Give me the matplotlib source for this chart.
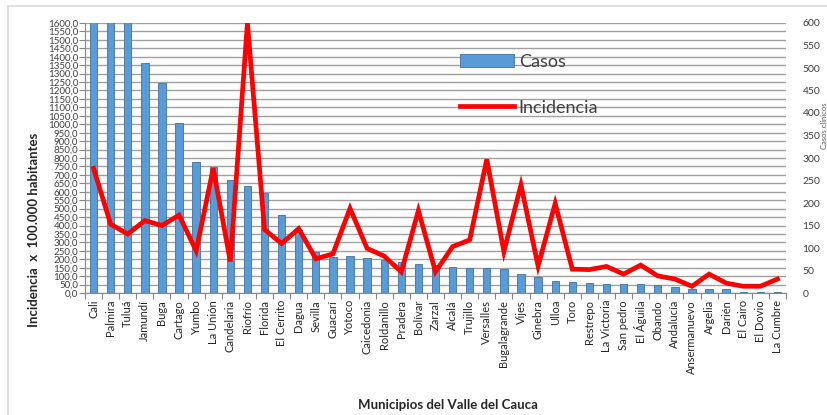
import numpy as np
import matplotlib
matplotlib.use("Agg")
import matplotlib.pyplot as plt
from matplotlib.lines import Line2D
from matplotlib.ticker import FuncFormatter, MultipleLocator

plt.rcParams['font.family'] = ['Lato', 'DejaVu Sans']

# -------------------------------
# Data
# -------------------------------
municipios = ["Cali", "Palmira", "Tuluá", "Jamundí", "Buga", "Cartago", "Yumbo",
              "La Unión", "Candelaria", "Riofrío", "Florida", "El Cerrito", "Dagua",
              "Sevilla", "Guacarí", "Yotoco", "Caicedonia", "Roldanillo", "Pradera",
              "Bolívar", "Zarzal", "Alcalá", "Trujillo", "Versalles", "Bugalagrande",
              "Vijes", "Ginebra", "Ulloa", "Toro", "Restrepo", "La Victoria",
              "San pedro", "El Águila", "Obando", "Andalucía", "Ansermanuevo",
              "Argelia", "Darién", "El Cairo", "El Dovio", "La Cumbre"]

# bars, left axis (first three go past the top of the axis)
casos = [2500, 1900, 1700, 1365, 1243, 1008, 779, 744, 667, 635, 595, 461, 375,
         245, 216, 219, 210, 195, 186, 171, 168, 155, 150, 150, 144, 112, 96,
         72, 67, 59, 51, 51, 51, 45, 36, 22, 22, 22, 8, 8, 8]

# line, right axis
incidencia = [277, 153, 131, 161, 150, 173, 94, 277, 70, 600, 141, 110, 143,
              76, 87, 188, 99, 82, 47, 183, 47, 103, 118, 297, 92, 240, 60,
              199, 53, 52, 59, 42, 62, 38, 31, 15, 42, 22, 15, 15, 31]

# -------------------------------
# Figure
# -------------------------------
fig = plt.figure(figsize=(8.28, 4.15), dpi=100)
ax = fig.add_axes([85 / 828, 1 - 293 / 415, (786 - 85) / 828, 270 / 415])
ax2 = ax.twinx()

x = np.arange(len(municipios))
ax.bar(x, casos, width=0.43, color='#5B9BD5', edgecolor='#41719C',
       linewidth=0.6, label='Casos', zorder=2)
ax2.plot(x, incidencia, color='#FF0000', linewidth=3.4, label='Incidencia',
         solid_joinstyle='miter', zorder=3)

ax.set_xlim(-0.5, len(municipios) - 0.5)
ax.set_ylim(0, 1600)
ax2.set_ylim(0, 600)

# left axis
ax.yaxis.set_major_locator(MultipleLocator(50))
ax.yaxis.set_major_formatter(FuncFormatter(lambda v, p: f"{v:.1f}".replace('.', ',')))
ax.tick_params(axis='y', labelsize=7, length=4, width=0.8, color='#868686',
               labelcolor='#404040', pad=1)
ax.grid(axis='y', color='#A0A0A0', linewidth=1.0, zorder=0)
ax.set_axisbelow(True)

# right axis
ax2.yaxis.set_major_locator(MultipleLocator(50))
ax2.tick_params(axis='y', labelsize=7.5, length=0, labelcolor='#404040', pad=12)

# x axis
ax.set_xticks(x)
ax.set_xticklabels(municipios, rotation=90, fontsize=8, color='#262626')
ax.tick_params(axis='x', length=0, pad=5)
ax.set_xticks(np.arange(-0.5, len(municipios)), minor=True)
ax.tick_params(axis='x', which='minor', length=4, width=0.8, color='#868686')

for a in (ax, ax2):
    a.spines['top'].set_visible(False)
    a.spines['right'].set_visible(False)
ax.spines['left'].set_color('#868686')
ax.spines['bottom'].set_color('#868686')
ax2.spines['left'].set_visible(False)
ax2.spines['bottom'].set_visible(False)

# axis titles
ax.set_ylabel('Incidencia  x  100.000 habitantes', fontsize=9.5, fontweight='bold',
              color='#262626')
ax.yaxis.set_label_coords(-0.064, 0.235)
ax2.set_ylabel('Casos clínicos', fontsize=5.5, color='#595959')
ax2.yaxis.set_label_coords(1.0495, 0.62)
fig.text(448 / 828, 1 - 405 / 415, 'Municipios del Valle del Cauca', ha='center',
         va='center', fontsize=9.5, fontweight='bold', color='#262626')

# legend
h1, l1 = ax.get_legend_handles_labels()
h2, l2 = ax2.get_legend_handles_labels()
fig.legend(h1 + h2, l1 + l2, loc='upper left', bbox_to_anchor=(460 / 828, 1 - 54 / 415),
           frameon=False, fontsize=13, handlelength=3.0, labelspacing=1.65,
           handletextpad=0.25, borderpad=0, borderaxespad=0, labelcolor='#404040')

# chart-area border (left and top edges visible in the crop)
fig.add_artist(Line2D([8 / 828, 8 / 828], [0, 1 - 6 / 415], transform=fig.transFigure,
                      color='#D9D9D9', linewidth=1.2))
fig.add_artist(Line2D([8 / 828, 1], [1 - 6 / 415, 1 - 6 / 415], transform=fig.transFigure,
                      color='#D9D9D9', linewidth=1.2))

fig.savefig('out.png', dpi=100)
